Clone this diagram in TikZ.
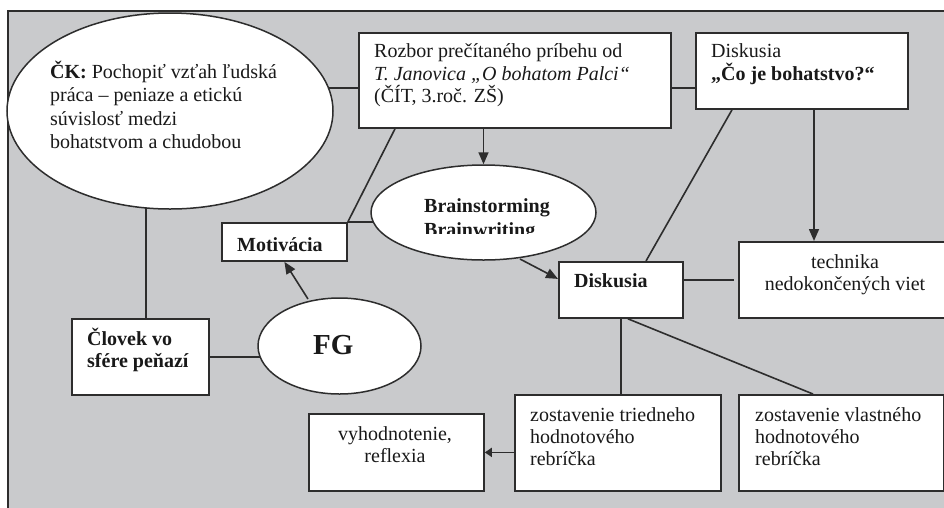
\documentclass[tikz,border=0pt]{standalone}
\usepackage{fontspec}
\setmainfont{Liberation Serif}
\usetikzlibrary{shapes.geometric,arrows.meta,calc}
\definecolor{bggray}{RGB}{201,202,204}
\definecolor{ln}{RGB}{45,45,45}
\definecolor{tx}{RGB}{25,25,25}
\newcommand\fs{\fontsize{20}{22.5}\selectfont\lineskiplimit=-100pt\relax}
\newcommand\fsk[1]{\fontsize{20}{#1}\selectfont\lineskiplimit=-100pt\relax}
\pgfdeclarelayer{back}
\pgfdeclarelayer{lines}
\pgfsetlayers{back,lines,main}
\begin{document}
\begin{tikzpicture}[x=1pt,y=-1pt,
  box/.style={draw=ln, line width=1.8pt, fill=white, rectangle, inner sep=0pt, anchor=north west},
  oval/.style={draw=ln, line width=1.5pt, fill=white, ellipse, inner sep=0pt},
  txt/.style={inner sep=0pt, text=tx, font=\fs, anchor=base west},
  ctxt/.style={inner sep=0pt, text=tx, font=\fs, anchor=base},
  con/.style={draw=ln, line width=1.6pt},
  arr/.style={con, -{Triangle[length=12pt,width=10pt]}},
  arrs/.style={con, -{Triangle[length=7pt,width=9pt]}},
]
\clip (0,0) rectangle (944,507);
\begin{pgfonlayer}{back}
  \fill[white] (0,0) rectangle (944,507);
  \fill[bggray] (8,11) rectangle (960,520);
  \draw[ln, line width=1.6pt] (8,520) -- (8,11) -- (960,11);
\end{pgfonlayer}

% nodes
\node[oval, minimum width=326pt, minimum height=196pt] (ck) at (170,111) {};
\node[box, minimum width=312pt, minimum height=95pt] (rozbor) at (358,32) {};
\node[box, minimum width=212pt, minimum height=76pt] (disk1) at (695,32) {};
\node[oval, minimum width=225pt, minimum height=95pt] (brain) at (483.5,212.5) {};
\node[box, minimum width=125pt, minimum height=38pt] (motiv) at (221,222) {};
\node[oval, minimum width=163pt, minimum height=96pt] (fg) at (339.5,346) {};
\node[box, minimum width=137pt, minimum height=76pt] (clovek) at (71,318) {};
\node[box, minimum width=124pt, minimum height=56pt] (disk2) at (558,261) {};
\node[box, minimum width=214pt, minimum height=76pt] (tech) at (738,241) {};
\node[box, minimum width=206pt, minimum height=96pt] (zost1) at (514,394) {};
\node[box, minimum width=205pt, minimum height=96pt] (zost2) at (738,394) {};
\node[box, minimum width=175pt, minimum height=77pt] (vyhod) at (308,413) {};

% texts
\node[txt] (ckt) at (50,78) {\parbox[t]{300pt}{\fsk{23.5}\raggedright\textbf{ČK:} Pochopiť vzťah ľudská\\práca – peniaze a etickú\\súvislosť medzi\\bohatstvom a chudobou}};
\node[txt] (rozbort) at (374,57.5) {\parbox[t]{300pt}{\fs\raggedright Rozbor prečítaného príbehu od\\\textit{T. Janovica „O bohatom Palci“}\\(ČÍT, 3.roč. ZŠ)}};
\node[txt] (disk1t) at (711,57.5) {\parbox[t]{200pt}{\fs\raggedright Diskusia\\\textbf{„Čo je bohatstvo?“}}};
\begin{scope}
  \clip (400,150) rectangle (580,233.5);
  \node[txt] (braint) at (424,212) {\parbox[t]{200pt}{\fsk{24}\raggedright\bfseries Brainstorming\\Brainwriting}};
\end{scope}
\node[txt] (motivt) at (237,251) {\textbf{Motivácia}};
\node[txt, font=\fontsize{29}{32}\selectfont] (fgt) at (313,354) {\textbf{FG}};
\node[txt] (clovekt) at (87,345) {\parbox[t]{130pt}{\fsk{22}\raggedright\bfseries Človek vo\\sfére peňazí}};
\node[txt] (disk2t) at (574,287) {\textbf{Diskusia}};
\node[ctxt] (techt) at (845,268.5) {\parbox[t]{210pt}{\fsk{21.5}\centering technika\\nedokončených viet}};
\node[txt] (zost1t) at (530,421) {\parbox[t]{200pt}{\fsk{22}\raggedright zostavenie triedneho\\hodnotového\\rebríčka}};
\node[txt] (zost2t) at (755,421) {\parbox[t]{200pt}{\fsk{22}\raggedright zostavenie vlastného\\hodnotového\\rebríčka}};
\node[ctxt] (vyhodt) at (395,440) {\parbox[t]{170pt}{\fsk{22}\centering vyhodnotenie,\\reflexia}};

% connectors
\begin{pgfonlayer}{lines}
  \coordinate (ckR) at (321,88);
  \draw[con] (ckR) -- (ckR -| rozbor.west);
  \draw[con] (rozbor.east |- ckR) -- (disk1.west |- ckR);
  \draw[arr] (brain.north |- rozbor.south) -- (brain.north);
  \draw[con] ($(rozbor.south west)+(37,0)$) -- (motiv.north east);
  \draw[con] (motiv.north east) -- (brain.center |- motiv.north east);
  \coordinate (ckB) at (146,200);
  \draw[con] (ckB) -- (ckB |- clovek.north);
  \draw[con] (clovek.east) -- (clovek.east -| fg.center);
  \coordinate (fgT) at (308,299);
  \draw[arr] (fgT) -- (motiv.south);
  \coordinate (brB) at (520,259);
  \draw[arr] (brB) -- ($(disk2.west)+(0,-11)$);
  \draw[con] ($(disk1.south west)+(37,0)$) -- ($(disk2.north west)+(88,0)$);
  \coordinate (d1b) at ($(disk1.south west)+(119,0)$);
  \draw[arr] (d1b) -- (d1b |- tech.north);
  \draw[con] ($(disk2.east)+(0,-10)$) -- ++(50,0);
  \draw[con] (disk2.south) -- (disk2.south |- zost1.north);
  \draw[con] ($(disk2.south)+(7,0)$) -- ($(zost2.north west)+(75,0)$);
  \draw[arrs] (zost1.west |- vyhod.east) -- (vyhod.east);
\end{pgfonlayer}
\end{tikzpicture}
\end{document}
